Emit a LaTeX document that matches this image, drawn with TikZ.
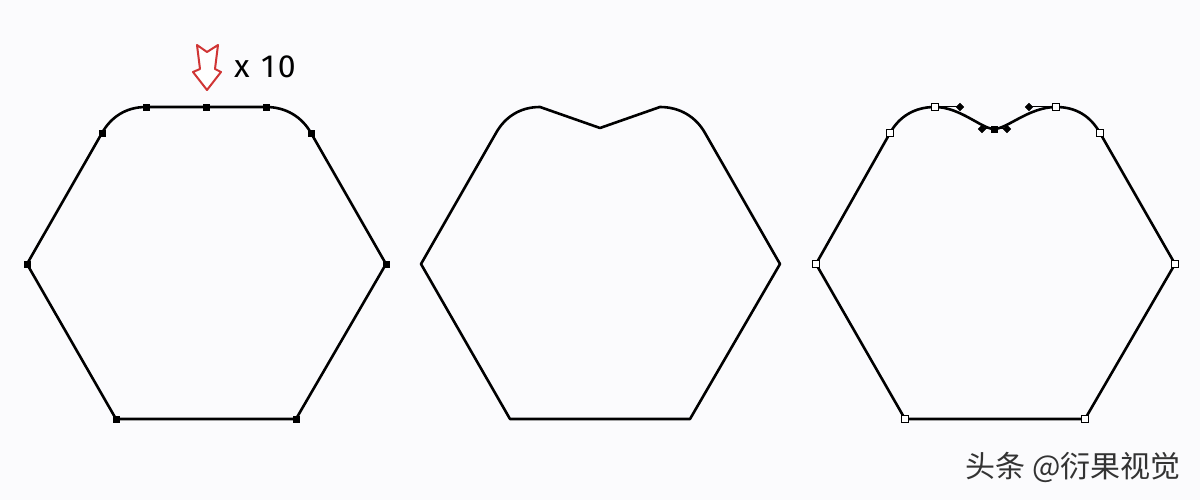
\documentclass[tikz,border=0pt]{standalone}
\usepackage{fontspec}
\setmainfont{Fira Sans}
\newfontfamily\cjk{Noto Sans CJK SC}
\newfontfamily\wide[LetterSpace=9]{Fira Sans}
\definecolor{paper}{HTML}{FBFBFD}
\definecolor{arrowred}{HTML}{D03535}

\begin{document}
\begin{tikzpicture}[x=1pt,y=-1pt,
  edge/.style={line width=2.6pt,line join=round},
  solidpt/.style={draw=black,fill=black,minimum size=6.5pt,inner sep=0pt},
  openpt/.style={draw=black,fill=white,line width=1.1pt,minimum size=7pt,inner sep=0pt},
  handlept/.style={draw=black,fill=black,minimum size=5.5pt,inner sep=0pt,rotate=45}]
\useasboundingbox[fill=paper] (0,0) rectangle (1200,500);

% first hexagon, top edge subdivided
\coordinate (a1) at (27,264);   \coordinate (a2) at (102,133);
\coordinate (a3) at (146,107);  \coordinate (a4) at (206,107);
\coordinate (a5) at (266,107);  \coordinate (a6) at (311,133);
\coordinate (a7) at (386,264);  \coordinate (a8) at (296,419);
\coordinate (a9) at (116,419);
\draw[edge] (a1) -- (a2) .. controls (111,117) and (126,107) .. (a3) -- (a4) -- (a5)
  .. controls (286,107) and (302,117) .. (a6) -- (a7) -- (a8) -- (a9) -- cycle;
\foreach \p in {a1,a2,a3,a4,a5,a6,a7,a8,a9}
  \node[solidpt] at (\p) {};

\draw[arrowred,line width=2pt,line join=round,fill=white]
  (197,45) -- (207,52) -- (218,45) -- (215,69) -- (221,72) -- (207,90)
  -- (193,72) -- (200,69) -- cycle;
\node[font=\wide\fontsize{32}{33}\selectfont,anchor=west,inner sep=0pt] (times) at (234,67) {x 10};

% second hexagon, middle point pulled down
\coordinate (b1) at (421,264);  \coordinate (b2) at (496,133);
\coordinate (b3) at (540,107);  \coordinate (b4) at (600,128);
\coordinate (b5) at (660,107);  \coordinate (b6) at (705,133);
\coordinate (b7) at (780,264);  \coordinate (b8) at (690,419);
\coordinate (b9) at (510,419);
\draw[edge] (b1) -- (b2) .. controls (505,117) and (520,107) .. (b3) -- (b4) -- (b5)
  .. controls (680,107) and (696,117) .. (b6) -- (b7) -- (b8) -- (b9) -- cycle;

% third hexagon, smoothed
\coordinate (c1) at (816,264);  \coordinate (c2) at (890,133);
\coordinate (c3) at (935,107);  \coordinate (c4) at (994,129);
\coordinate (c5) at (1056,107); \coordinate (c6) at (1100,133);
\coordinate (c7) at (1175,264); \coordinate (c8) at (1085,419);
\coordinate (c9) at (905,419);
\coordinate (h1) at (960,107);  \coordinate (h2) at (982,129);
\coordinate (h3) at (1007,129); \coordinate (h4) at (1029,107);
\draw[edge] (c1) -- (c2) .. controls (899,117) and (914,107) .. (c3)
  .. controls (h1) and (h2) .. (c4) .. controls (h3) and (h4) .. (c5)
  .. controls (1077,107) and (1091,117) .. (c6) -- (c7) -- (c8) -- (c9) -- cycle;
\draw[line width=1pt] (c3) -- (h1) (h2) -- (h3) (h4) -- (c5);
\foreach \p in {h1,h2,h3,h4}
  \node[handlept] at (\p) {};
\node[solidpt] at (c4) {};
\foreach \p in {c1,c2,c3,c5,c6,c7,c8,c9}
  \node[openpt] at (\p) {};

\node[font=\cjk\fontsize{30}{31}\selectfont,text=black!80] (mark) at (1073,467) {头条 @衍果视觉};
\end{tikzpicture}
\end{document}
